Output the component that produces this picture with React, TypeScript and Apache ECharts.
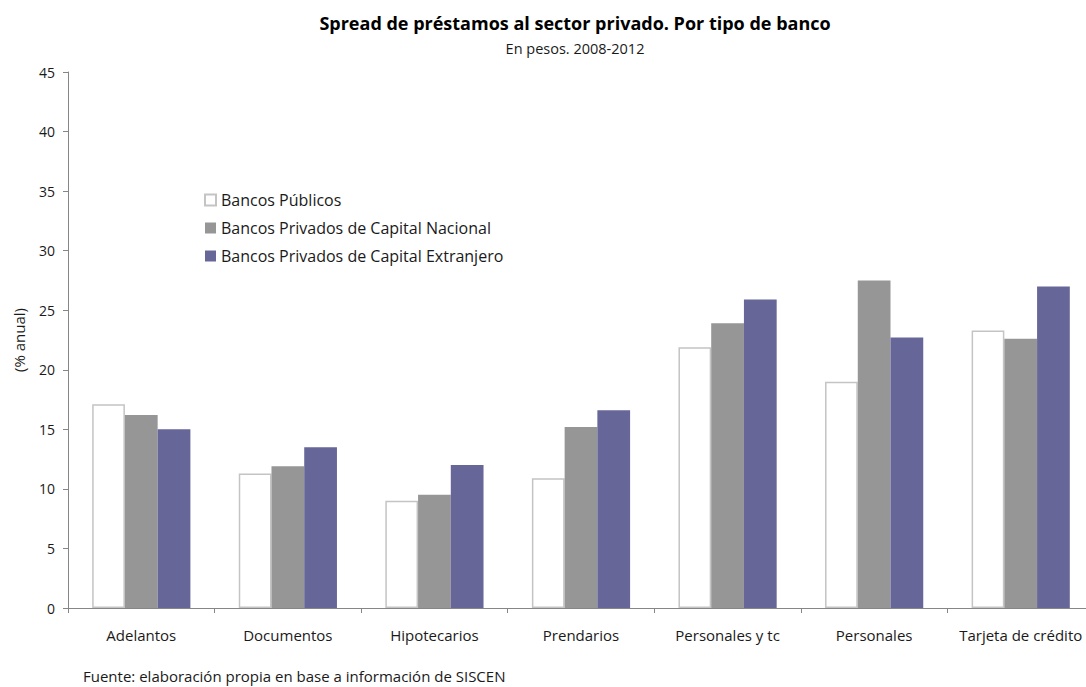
import React, { useEffect, useRef } from "react";
import * as echarts from "echarts";

const categories = ["Adelantos", "Documentos", "Hipotecarios", "Prendarios", "Personales y tc", "Personales", "Tarjeta de crédito"];
const publicos = [17.1, 11.3, 9.0, 10.9, 21.9, 19.0, 23.3];
const nacional = [16.2, 11.9, 9.5, 15.2, 23.9, 27.5, 22.6];
const extranjero = [15.0, 13.5, 12.0, 16.6, 25.9, 22.7, 27.0];
const seriesNames = ["Bancos Públicos", "Bancos Privados de Capital Nacional", "Bancos Privados de Capital Extranjero"];
const titleText = "Spread de préstamos al sector privado. Por tipo de banco";
const subtitleText = "En pesos. 2008-2012";
const sourceText = "Fuente: elaboración propia en base a información de SISCEN";

const FONT = "'Open Sans', Lato, sans-serif";
const TXT = "#1a1a1a";

export default function App() {
  const ref = useRef<HTMLDivElement>(null);
  useEffect(() => {
    if (!ref.current) return;
    const chart = echarts.init(ref.current, undefined, { renderer: "svg" });
    chart.setOption({
      animation: false,
      backgroundColor: "#ffffff",
      textStyle: { fontFamily: FONT, color: TXT },
      legend: {
        orient: "vertical",
        left: 204,
        top: 192,
        padding: 0,
        icon: "rect",
        itemWidth: 11,
        itemHeight: 11,
        itemGap: 12,
        data: seriesNames,
        textStyle: { fontFamily: FONT, fontSize: 16, color: TXT, lineHeight: 16 },
      },
      graphic: [
        {
          type: "text",
          x: 575,
          y: 23,
          style: { text: titleText, fontFamily: FONT, fontSize: 18, fontWeight: "bold", fill: "#000", align: "center", verticalAlign: "middle" },
        },
        {
          type: "text",
          x: 575,
          y: 48,
          style: { text: subtitleText, fontFamily: FONT, fontSize: 14.5, fill: TXT, align: "center", verticalAlign: "middle" },
        },
        {
          type: "text",
          x: 83,
          y: 676,
          style: { text: sourceText, fontFamily: FONT, fontSize: 15, fill: TXT, align: "left", verticalAlign: "middle" },
        },
      ],
      grid: { left: 68, top: 72, width: 1026, height: 536, containLabel: false },
      xAxis: {
        type: "category",
        data: categories,
        axisLine: { lineStyle: { color: "#868686", width: 1 } },
        axisTick: { show: true, length: 5, lineStyle: { color: "#868686" } },
        axisLabel: { fontFamily: FONT, fontSize: 15, color: TXT, margin: 19, interval: 0 },
      },
      yAxis: {
        type: "value",
        min: 0,
        max: 45,
        interval: 5,
        name: "(% anual)",
        nameLocation: "middle",
        nameGap: 42,
        nameTextStyle: { fontFamily: FONT, fontSize: 15, color: TXT },
        axisLine: { show: true, lineStyle: { color: "#868686", width: 1 } },
        axisTick: { show: true, length: 5, lineStyle: { color: "#868686" } },
        axisLabel: { fontFamily: FONT, fontSize: 14, color: TXT, margin: 13 },
        splitLine: { show: false },
      },
      series: [
        {
          name: seriesNames[0],
          type: "bar",
          data: publicos,
          barGap: "0%",
          barCategoryGap: "33%",
          itemStyle: { color: "#ffffff", borderColor: "#c4c4c4", borderWidth: 1.5 },
        },
        {
          name: seriesNames[1],
          type: "bar",
          data: nacional,
          barGap: "0%",
          barCategoryGap: "33%",
          itemStyle: { color: "#969696" },
        },
        {
          name: seriesNames[2],
          type: "bar",
          data: extranjero,
          barGap: "0%",
          barCategoryGap: "33%",
          itemStyle: { color: "#666699" },
        },
      ],
    });
    return () => chart.dispose();
  }, []);
  return (
    <div style={{ position: "absolute", left: 0, top: 0, width: 1086, height: 687, overflow: "hidden" }}>
      <div ref={ref} style={{ width: 1110, height: 687 }} />
    </div>
  );
}
